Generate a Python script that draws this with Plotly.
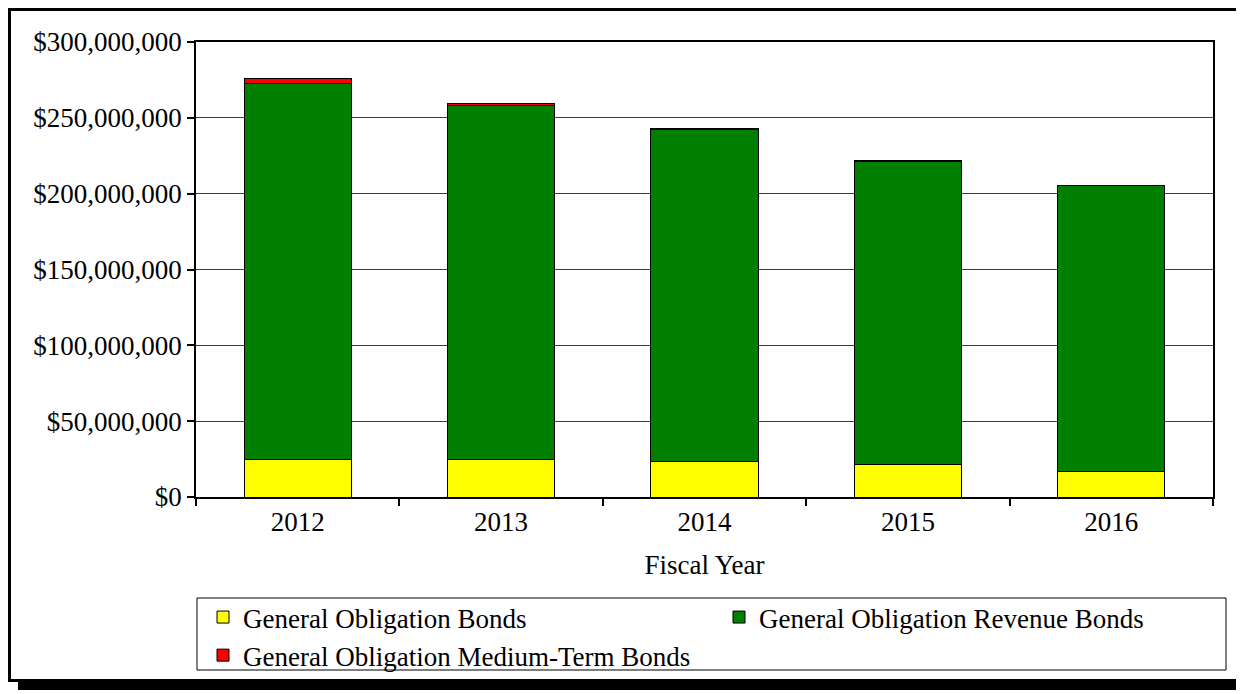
import plotly.graph_objects as go

years = ["2012", "2013", "2014", "2015", "2016"]
go_bonds = [25.0e6, 25.0e6, 23.3e6, 21.3e6, 17.1e6]
go_revenue = [247.7e6, 233.3e6, 218.8e6, 199.8e6, 188.6e6]
go_medium = [3.3e6, 1.0e6, 0.9e6, 0.7e6, 0.0]

series_names = ["General Obligation Bonds", "General Obligation Revenue Bonds",
                "General Obligation Medium-Term Bonds"]
series_colors = ["#FFFF00", "#007F00", "#FF0000"]
series_legends = ["legend", "legend2", "legend"]

FONT = "Liberation Serif"
FS = 27

fig = go.Figure()
for name, vals, col, lg in zip(series_names, [go_bonds, go_revenue, go_medium], series_colors, series_legends):
    fig.add_trace(go.Bar(x=years, y=vals, name=name, legend=lg,
                         marker=dict(color=col, line=dict(color="#000000", width=1))))

# page body has an 8px margin; screen coords = figure coords + 8
OFF = 8
W, H = 1244 - OFF, 694 - OFF
L, R, T, B = 196, 1213, 42, 497  # screen coords of plot area
pw, ph = R - L, B - T

def px(x):
    return (x - L) / pw

def py(y):
    return (B - y) / ph

shapes = [
    # legend box
    dict(type="rect", xref="paper", yref="paper", x0=px(197), x1=px(1226), y0=py(598), y1=py(670),
         line=dict(color="#000000", width=1), fillcolor="rgba(0,0,0,0)"),
    # frame
    dict(type="rect", xref="paper", yref="paper", x0=px(9.5), x1=px(1238.5), y0=py(9.5), y1=py(680.5),
         line=dict(color="#000000", width=3), fillcolor="rgba(0,0,0,0)", layer="below"),
    # shadow right
    dict(type="rect", xref="paper", yref="paper", x0=px(1238.5), x1=px(1244), y0=py(18), y1=py(690),
         line=dict(width=0), fillcolor="#000000"),
    # shadow bottom
    dict(type="rect", xref="paper", yref="paper", x0=px(18), x1=px(1244), y0=py(680.5), y1=py(690),
         line=dict(width=0), fillcolor="#000000"),
]

legend_common = dict(xanchor="left", yanchor="top", bgcolor="rgba(0,0,0,0)", borderwidth=0,
                     traceorder="normal", orientation="v",
                     font=dict(family=FONT, size=FS, color="#000000"), tracegroupgap=0)

fig.update_layout(
    width=W, height=H,
    margin=dict(l=L - OFF, r=1244 - R, t=T - OFF, b=694 - B, pad=0, autoexpand=False),
    paper_bgcolor="#FFFFFF", plot_bgcolor="#FFFFFF",
    barmode="stack", bargap=0.473,
    font=dict(family=FONT, size=FS, color="#000000"),
    shapes=shapes,
    showlegend=True,
    legend=dict(x=px(203), y=py(593), **legend_common),
    legend2=dict(x=px(719), y=py(593), **legend_common),
)

fig.update_xaxes(
    type="category", showline=True, linecolor="#000000", linewidth=1.5, mirror=True,
    ticks="outside", ticklen=7, tickwidth=1.5, tickcolor="#000000", tickson="boundaries",
    showgrid=False,
    title=dict(text="Fiscal Year", font=dict(family=FONT, size=FS), standoff=19),
    tickfont=dict(family=FONT, size=FS),
)
fig.update_yaxes(
    range=[0, 300e6], dtick=50e6, tick0=0, tickprefix="$", tickformat=",d",
    showline=True, linecolor="#000000", linewidth=1.5, mirror=True,
    ticks="outside", ticklen=7, tickwidth=1.5, tickcolor="#000000",
    showgrid=True, gridcolor="#3c3c3c", gridwidth=1.3, zeroline=False,
    tickfont=dict(family=FONT, size=FS),
)

fig.write_html("out.html")
